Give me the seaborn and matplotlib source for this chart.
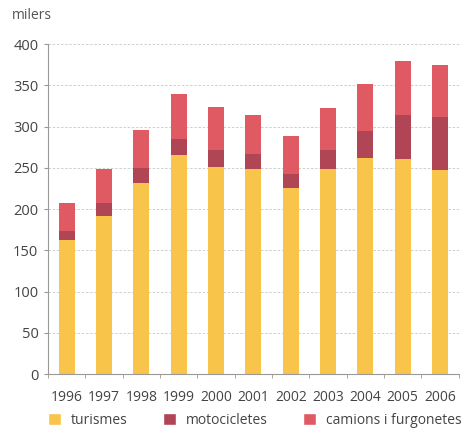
import pandas as pd
import numpy as np
import matplotlib
matplotlib.use('Agg')
import matplotlib.pyplot as plt
from matplotlib.patches import Patch
import seaborn as sns

# Vehicles, thousands (milers)
years = ['1996', '1997', '1998', '1999', '2000', '2001', '2002', '2003', '2004', '2005', '2006']
turismes = [163, 192, 231, 265, 251, 248, 226, 249, 262, 261, 247]
motocicletes = [10, 15, 19, 20, 21, 19, 17, 22, 33, 53, 64]
camions = [34, 42, 46, 54, 52, 47, 46, 51, 56, 65, 64]

c_tur = '#F8C44A'
c_moto = '#B04556'
c_cam = '#E05A64'

df = pd.DataFrame({'year': years, 'turismes': turismes,
                   'motocicletes': motocicletes, 'camions': camions})
df['tur_moto'] = df['turismes'] + df['motocicletes']
df['total'] = df['tur_moto'] + df['camions']

sns.set_style('white')
plt.rcParams['font.family'] = ['Open Sans', 'DejaVu Sans']

fig = plt.figure(figsize=(4.72, 4.36), dpi=100)
ax = fig.add_axes([0.102, 0.142, 0.870, 0.757])
ax.set_axisbelow(True)

# stacked bars drawn as cumulative layers
for col, c in [('total', c_cam), ('tur_moto', c_moto), ('turismes', c_tur)]:
    sns.barplot(x='year', y=col, data=df, color=c, width=0.43, saturation=1,
                edgecolor='none', linewidth=0, ax=ax)

ax.set_ylim(0, 400)
ax.set_xlim(-0.5, len(years) - 0.5)
ax.set_yticks(range(0, 401, 50))
ax.yaxis.grid(True, linestyle=(0, (3, 2)), linewidth=0.6, color='#c8c8c8')
ax.xaxis.grid(False)
ax.set_xlabel('')
ax.set_ylabel('')

for s in ['top', 'right']:
    ax.spines[s].set_visible(False)
for s in ['left', 'bottom']:
    ax.spines[s].set_color('#999999')
    ax.spines[s].set_linewidth(0.8)

ax.tick_params(axis='y', which='major', left=True, length=3, color='#999999',
               labelsize=10.5, labelcolor='#444444', pad=4)
ax.tick_params(axis='x', which='major', bottom=False, labelsize=10,
               labelcolor='#444444', pad=8)
ax.set_xticks(np.arange(-0.5, len(years), 1), minor=True)
ax.tick_params(axis='x', which='minor', bottom=True, length=3, color='#999999')

fig.text(0.025, 0.965, 'milers', fontsize=10, color='#555555', va='center')

handles = [Patch(facecolor=c_tur, label='turismes'),
           Patch(facecolor=c_moto, label='motocicletes'),
           Patch(facecolor=c_cam, label='camions i furgonetes')]
leg = fig.legend(handles=handles, loc='center left', bbox_to_anchor=(0.102, 0.036),
                 ncol=3, frameon=False, fontsize=10, handlelength=0.9, handleheight=0.9,
                 handletextpad=0.7, columnspacing=2.6, borderpad=0, borderaxespad=0)
for t in leg.get_texts():
    t.set_color('#444444')

fig.savefig('out.png', dpi=100)
